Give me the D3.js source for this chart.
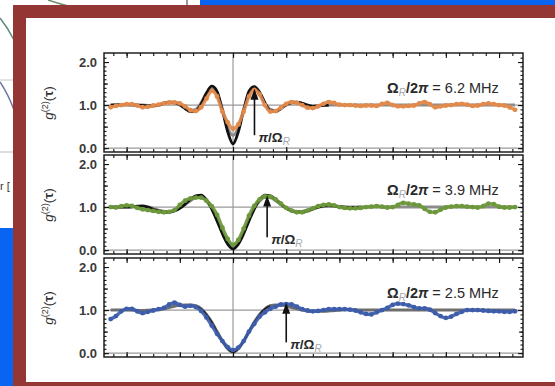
<!DOCTYPE html>
<html>
<head>
<meta charset="utf-8">
<script src="https://cdn.jsdelivr.net/npm/d3@7"></script>
<style>
  html, body { margin: 0; padding: 0; background: #fff; }
  svg { display: block; }
</style>
</head>
<body>
<svg id="chart" width="555" height="386"></svg>
<script>
// ---- data -------------------------------------------------------------
// delay samples (ns) shared by the three measured g2 traces
const delayNs = d3.range(-460, 1061, 20);

// Rabi frequencies Ω_R/2π (MHz), one per panel
const rabiMHz = [6.2, 3.9, 2.5];

// measured g2(τ)
const g2Orange = [
  0.95,0.98,1.00,1.02,1.02,0.99,0.95,0.96,0.99,
  1.01,1.04,1.06,1.06,1.04,0.97,0.88,0.86,0.95,1.15,
  1.33,1.20,0.85,0.60,0.45,0.55,0.85,1.20,1.35,1.25,
  1.00,0.85,0.86,0.94,1.03,1.07,1.05,1.00,0.94,0.93,
  0.97,1.03,1.07,1.05,1.01,1.00,1.00,0.99,0.98,0.99,
  0.99,0.98,1.03,1.05,1.00,0.97,0.97,0.98,0.99,1.04,
  1.07,1.02,0.95,0.97,0.99,1.00,1.02,1.03,1.01,0.98,
  0.99,1.02,1.04,1.02,1.00,0.99,0.95,0.89
];
const g2Green = [
  1.00,0.99,1.02,1.04,1.03,0.98,0.95,0.93,0.91,
  0.89,0.88,0.89,0.93,1.05,1.15,1.20,1.22,1.22,1.15,
  1.02,0.82,0.52,0.26,0.12,0.24,0.50,0.80,1.03,1.18,
  1.25,1.24,1.18,1.08,0.98,0.92,0.88,0.88,0.92,0.97,
  1.02,1.05,1.06,1.04,1.00,0.98,0.97,0.97,0.98,1.00,
  1.01,1.02,1.01,0.99,1.00,1.05,1.10,1.08,1.06,1.04,
  0.96,0.89,0.88,0.94,0.99,1.01,1.02,1.02,1.01,1.00,
  0.99,1.02,1.08,1.07,1.01,0.99,0.99,1.00
];
const g2Blue = [
  0.79,0.86,0.97,1.03,1.03,0.97,0.93,0.96,0.99,
  1.02,1.05,1.13,1.17,1.12,1.08,1.10,1.07,0.98,0.83,
  0.64,0.45,0.28,0.14,0.07,0.13,0.28,0.50,0.68,0.85,
  0.95,1.03,1.08,1.13,1.14,1.13,1.08,1.02,0.99,0.97,
  0.98,1.00,1.02,1.02,1.02,1.02,1.01,0.99,0.95,0.91,
  0.90,0.95,1.00,1.05,1.12,1.15,1.14,1.11,1.07,1.04,
  1.04,1.01,0.93,0.86,0.82,0.85,0.91,0.96,1.00,1.00,
  1.00,0.99,0.98,0.97,0.97,0.96,0.96,0.97
];

// model curves, [τ (ns), g2]
const fitBlack1 = [[-460,1.0],[-400,1.01],[-360,1.0],[-320,0.98],[-280,1.0],[-260,1.04],[-240,1.07],[-220,1.06],[-200,1.01],[-180,0.92],[-160,0.85],[-140,0.86],[-120,1.02],[-100,1.28],[-80,1.44],[-60,1.32],[-40,0.88],[-20,0.38],[0,0.1],[20,0.38],[40,0.88],[60,1.32],[80,1.43],[100,1.3],[120,1.05],[140,0.87],[160,0.85],[180,0.92],[200,1.01],[220,1.06],[240,1.07],[260,1.04],[280,1.0],[300,0.97],[320,0.98],[360,1.0]];
const fitGrey1 = [[-460,1.0],[-340,1.0],[-300,0.98],[-280,1.0],[-260,1.04],[-240,1.06],[-220,1.05],[-200,1.0],[-180,0.92],[-160,0.87],[-140,0.9],[-120,1.05],[-100,1.27],[-80,1.37],[-60,1.25],[-40,0.9],[-20,0.48],[0,0.3],[20,0.48],[40,0.9],[60,1.25],[80,1.37],[100,1.27],[120,1.05],[140,0.9],[160,0.87],[180,0.92],[200,1.0],[220,1.05],[240,1.06],[260,1.04],[280,1.0],[300,0.98],[340,1.0],[1060,1.0]];

const fitBlack2 = [[-460,1.0],[-400,1.0],[-360,1.02],[-340,1.03],[-320,1.0],[-300,0.95],[-280,0.91],[-260,0.88],[-240,0.88],[-220,0.91],[-200,0.97],[-180,1.07],[-160,1.18],[-140,1.26],[-120,1.28],[-100,1.17],[-80,0.96],[-60,0.68],[-40,0.38],[-20,0.14],[0,0.03],[20,0.14],[40,0.38],[60,0.68],[80,0.96],[100,1.17],[120,1.28],[140,1.26],[160,1.18],[180,1.07],[200,0.97],[220,0.91],[240,0.88],[260,0.88],[280,0.91],[300,0.95],[320,1.0],[340,1.03],[360,1.04],[380,1.03],[400,1.01],[440,0.99],[480,1.0]];
const fitGrey2 = [[-460,1.0],[-360,1.01],[-320,1.0],[-300,0.97],[-280,0.93],[-260,0.9],[-240,0.9],[-220,0.93],[-200,0.98],[-180,1.06],[-160,1.15],[-140,1.22],[-120,1.23],[-100,1.14],[-80,0.96],[-60,0.7],[-40,0.42],[-20,0.2],[0,0.1],[20,0.2],[40,0.42],[60,0.7],[80,0.96],[100,1.14],[120,1.23],[140,1.22],[160,1.15],[180,1.06],[200,0.98],[220,0.93],[240,0.9],[260,0.9],[280,0.93],[300,0.97],[320,1.0],[360,1.02],[400,1.01],[440,1.0],[1060,1.0]];

const fitBlack3 = [[-140,1.1],[-120,1.03],[-100,0.9],[-80,0.72],[-60,0.5],[-40,0.28],[-20,0.1],[0,0.02],[20,0.1],[40,0.28],[60,0.5],[80,0.72],[100,0.9],[120,1.03],[140,1.1]];
const fitGrey3 = [[-460,1.0],[-400,1.0],[-340,0.99],[-300,1.0],[-260,1.03],[-240,1.06],[-220,1.09],[-200,1.11],[-180,1.12],[-160,1.12],[-140,1.1],[-120,1.03],[-100,0.9],[-80,0.72],[-60,0.5],[-40,0.28],[-20,0.1],[0,0.02],[20,0.1],[40,0.28],[60,0.5],[80,0.72],[100,0.9],[120,1.03],[140,1.1],[160,1.12],[180,1.12],[200,1.1],[220,1.06],[240,1.03],[260,1.0],[280,0.98],[300,0.97],[340,0.97],[380,0.99],[420,1.01],[480,1.0],[1060,1.0]];

// y tick labels
const yLabels = [0, 1, 2];

// ---- drawing ----------------------------------------------------------
const svg = d3.select("#chart");
const FONT = "'Liberation Sans', Arial, Helvetica, sans-serif";

// surrounding slide
svg.append("rect").attr("width", 555).attr("height", 386).attr("fill", "#fff");
svg.append("rect").attr("x", 200).attr("y", 0).attr("width", 355).attr("height", 6).attr("fill", "#0a64f2");
svg.append("line").attr("x1", 187).attr("x2", 187).attr("y1", 0).attr("y2", 6).attr("stroke", "#777").attr("stroke-width", 1.5);
svg.append("path").attr("d", "M48,0 Q60,4 72,7").attr("fill", "none").attr("stroke", "#6d8f6a").attr("stroke-width", 1.5);
svg.append("path").attr("d", "M0,18 Q8,28 14,40").attr("fill", "none").attr("stroke", "#5f8a78").attr("stroke-width", 1.5);
svg.append("path").attr("d", "M0,82 Q8,94 14,110").attr("fill", "none").attr("stroke", "#6f74a0").attr("stroke-width", 1.5);
svg.append("line").attr("x1", 0).attr("x2", 14).attr("y1", 80).attr("y2", 80).attr("stroke", "#c8c8c8");
svg.append("line").attr("x1", 0).attr("x2", 14).attr("y1", 152).attr("y2", 152).attr("stroke", "#bbb");
svg.append("text").attr("x", 0).attr("y", 190).attr("font-family", FONT).attr("font-size", 11).attr("fill", "#333").text("r [");
svg.append("rect").attr("x", 0).attr("y", 228).attr("width", 14).attr("height", 158).attr("fill", "#0a64f2");
svg.append("rect").attr("x", 13).attr("y", 5).attr("width", 542).attr("height", 381).attr("fill", "#943634");
svg.append("rect").attr("x", 26).attr("y", 18).attr("width", 529).attr("height", 364).attr("fill", "#fff");

// panels
const x = d3.scaleLinear().domain([-485, 1090]).range([104, 523]);
const panelH = 99;
const panels = [
  { top: 53,  g2: g2Orange, color: "#e2894c", black: fitBlack1, grey: fitGrey1, blackW: 2.8, arrowTip: 1.38, arrowTail: 0.3, greyColor: "#8c8c8c" },
  { top: 155, g2: g2Green,  color: "#6c973b", black: fitBlack2, grey: fitGrey2, blackW: 2.8, arrowTip: 1.27, arrowTail: 0.3, greyColor: "#8c8c8c" },
  { top: 258, g2: g2Blue,   color: "#3d5dab", black: fitBlack3, grey: fitGrey3, blackW: 1.4, arrowTip: 1.17, arrowTail: 0.25, greyColor: "#6e6e6e" }
];

panels.forEach((p, i) => {
  const y = d3.scaleLinear().domain([-0.09, 2.21]).range([p.top + panelH, p.top]);
  const g = svg.append("g");
  const clipId = "clip" + i;
  svg.append("clipPath").attr("id", clipId)
    .append("rect").attr("x", x.range()[0]).attr("y", p.top).attr("width", x.range()[1] - x.range()[0]).attr("height", panelH);

  // grid lines: g2 = 0, 1 and τ = 0
  [0, 1].forEach(v => {
    g.append("line").attr("x1", x.range()[0]).attr("x2", x.range()[1])
      .attr("y1", y(v)).attr("y2", y(v)).attr("stroke", "#9a9a9a").attr("stroke-width", 1.2);
  });
  g.append("line").attr("x1", x(0)).attr("x2", x(0)).attr("y1", p.top).attr("y2", p.top + panelH)
    .attr("stroke", "#9a9a9a").attr("stroke-width", 1.2);

  const plot = g.append("g").attr("clip-path", `url(#${clipId})`);
  const line = d3.line().x(d => x(d[0])).y(d => y(d[1])).curve(d3.curveMonotoneX);

  // model curves
  plot.append("path").datum(p.grey).attr("d", line).attr("fill", "none")
    .attr("stroke", p.greyColor).attr("stroke-width", 3);
  plot.append("path").datum(p.black).attr("d", line).attr("fill", "none")
    .attr("stroke", "#111").attr("stroke-width", p.blackW);

  // measured trace
  const pts = delayNs.map((t, k) => [t, p.g2[k]]);
  plot.append("path").datum(pts).attr("d", line).attr("fill", "none")
    .attr("stroke", p.color).attr("stroke-width", 3.4).attr("stroke-linecap", "round").attr("opacity", 0.9);
  plot.selectAll("circle.pt").data(pts).join("circle").attr("class", "pt")
    .attr("cx", d => x(d[0])).attr("cy", d => y(d[1])).attr("r", 2.4).attr("fill", p.color);

  // frame
  g.append("rect").attr("x", x.range()[0]).attr("y", p.top)
    .attr("width", x.range()[1] - x.range()[0]).attr("height", panelH)
    .attr("fill", "none").attr("stroke", "#111").attr("stroke-width", 1.4);

  // inward ticks on all four sides
  const xMinor = d3.range(-450, 1090, 50);
  const xMajor = d3.range(-400, 1090, 200);
  const yMinor = d3.range(0, 22).map(k => k / 10);
  const yMid = [0.5, 1.5];
  const addAxis = (axis, tr) => {
    const a = g.append("g").attr("transform", tr).call(axis);
    a.select(".domain").remove();
    a.selectAll("line").attr("stroke", "#111").attr("stroke-width", 1.1);
    return a;
  };
  const bottom = `translate(0,${p.top + panelH})`, top = `translate(0,${p.top})`;
  const left = `translate(${x.range()[0]},0)`, right = `translate(${x.range()[1]},0)`;
  addAxis(d3.axisBottom(x).tickValues(xMinor).tickSize(-3).tickFormat(""), bottom);
  addAxis(d3.axisBottom(x).tickValues(xMajor).tickSize(-5).tickFormat(""), bottom);
  addAxis(d3.axisTop(x).tickValues(xMinor).tickSize(-3).tickFormat(""), top);
  addAxis(d3.axisTop(x).tickValues(xMajor).tickSize(-5).tickFormat(""), top);
  addAxis(d3.axisLeft(y).tickValues(yMinor).tickSize(-2.5).tickFormat(""), left);
  addAxis(d3.axisLeft(y).tickValues(yMid).tickSize(-4).tickFormat(""), left);
  addAxis(d3.axisRight(y).tickValues(yMinor).tickSize(-2.5).tickFormat(""), right);
  addAxis(d3.axisRight(y).tickValues(yMid).tickSize(-4).tickFormat(""), right);
  addAxis(d3.axisRight(y).tickValues(yLabels).tickSize(-5).tickFormat(""), right);
  const la = addAxis(d3.axisLeft(y).tickValues(yLabels).tickSize(-5).tickPadding(7).tickFormat(d3.format(".1f")), left);
  la.selectAll("text").attr("font-family", FONT).attr("font-size", 13).attr("font-weight", "bold").attr("fill", "#3a3a3a");

  // y axis title g^(2)(τ)
  const yt = g.append("text").attr("transform", `translate(53,${p.top + 50}) rotate(-90)`)
    .attr("text-anchor", "middle").attr("font-family", FONT).attr("font-size", 13.5).attr("fill", "#333");
  yt.append("tspan").attr("font-style", "italic").text("g");
  yt.append("tspan").attr("font-size", 9).attr("dy", -5.5).text("(2)");
  yt.append("tspan").attr("dy", 5.5).text("(");
  yt.append("tspan").attr("font-weight", "bold").text("τ");
  yt.append("tspan").text(")");

  // Rabi frequency label
  const rl = g.append("text").attr("x", 387).attr("y", y(1) - 12)
    .attr("font-family", FONT).attr("font-size", 14.5).attr("fill", "#2a2a2a");
  rl.append("tspan").attr("font-weight", "bold").text("Ω");
  rl.append("tspan").attr("font-size", 10).attr("font-style", "italic").attr("fill", "#a8a8a8").attr("dy", 3).text("R");
  rl.append("tspan").attr("font-weight", "bold").attr("dy", -3).text("/2");
  rl.append("tspan").attr("font-weight", "bold").attr("font-style", "italic").text("π");
  rl.append("tspan").text(" = " + rabiMHz[i].toFixed(1) + " MHz");

  // arrow at τ = π/Ω_R
  const tHalf = 1000 / (2 * rabiMHz[i]);
  const ax = x(tHalf), tipY = y(p.arrowTip), tailY = y(p.arrowTail);
  g.append("line").attr("x1", ax).attr("x2", ax).attr("y1", tailY).attr("y2", tipY + 8)
    .attr("stroke", "#111").attr("stroke-width", 1.6);
  g.append("path").attr("d", `M${ax},${tipY} L${ax - 4},${tipY + 11} L${ax + 4},${tipY + 11} Z`).attr("fill", "#111");
  const al = g.append("text").attr("x", ax + 4).attr("y", tailY + 7)
    .attr("font-family", FONT).attr("font-size", 13.5).attr("fill", "#2a2a2a").attr("font-weight", "bold");
  al.append("tspan").attr("font-style", "italic").text("π");
  al.append("tspan").text("/Ω");
  al.append("tspan").attr("font-size", 10).attr("font-weight", "normal").attr("font-style", "italic").attr("fill", "#a8a8a8").attr("dy", 3).text("R");
});
</script>
</body>
</html>
